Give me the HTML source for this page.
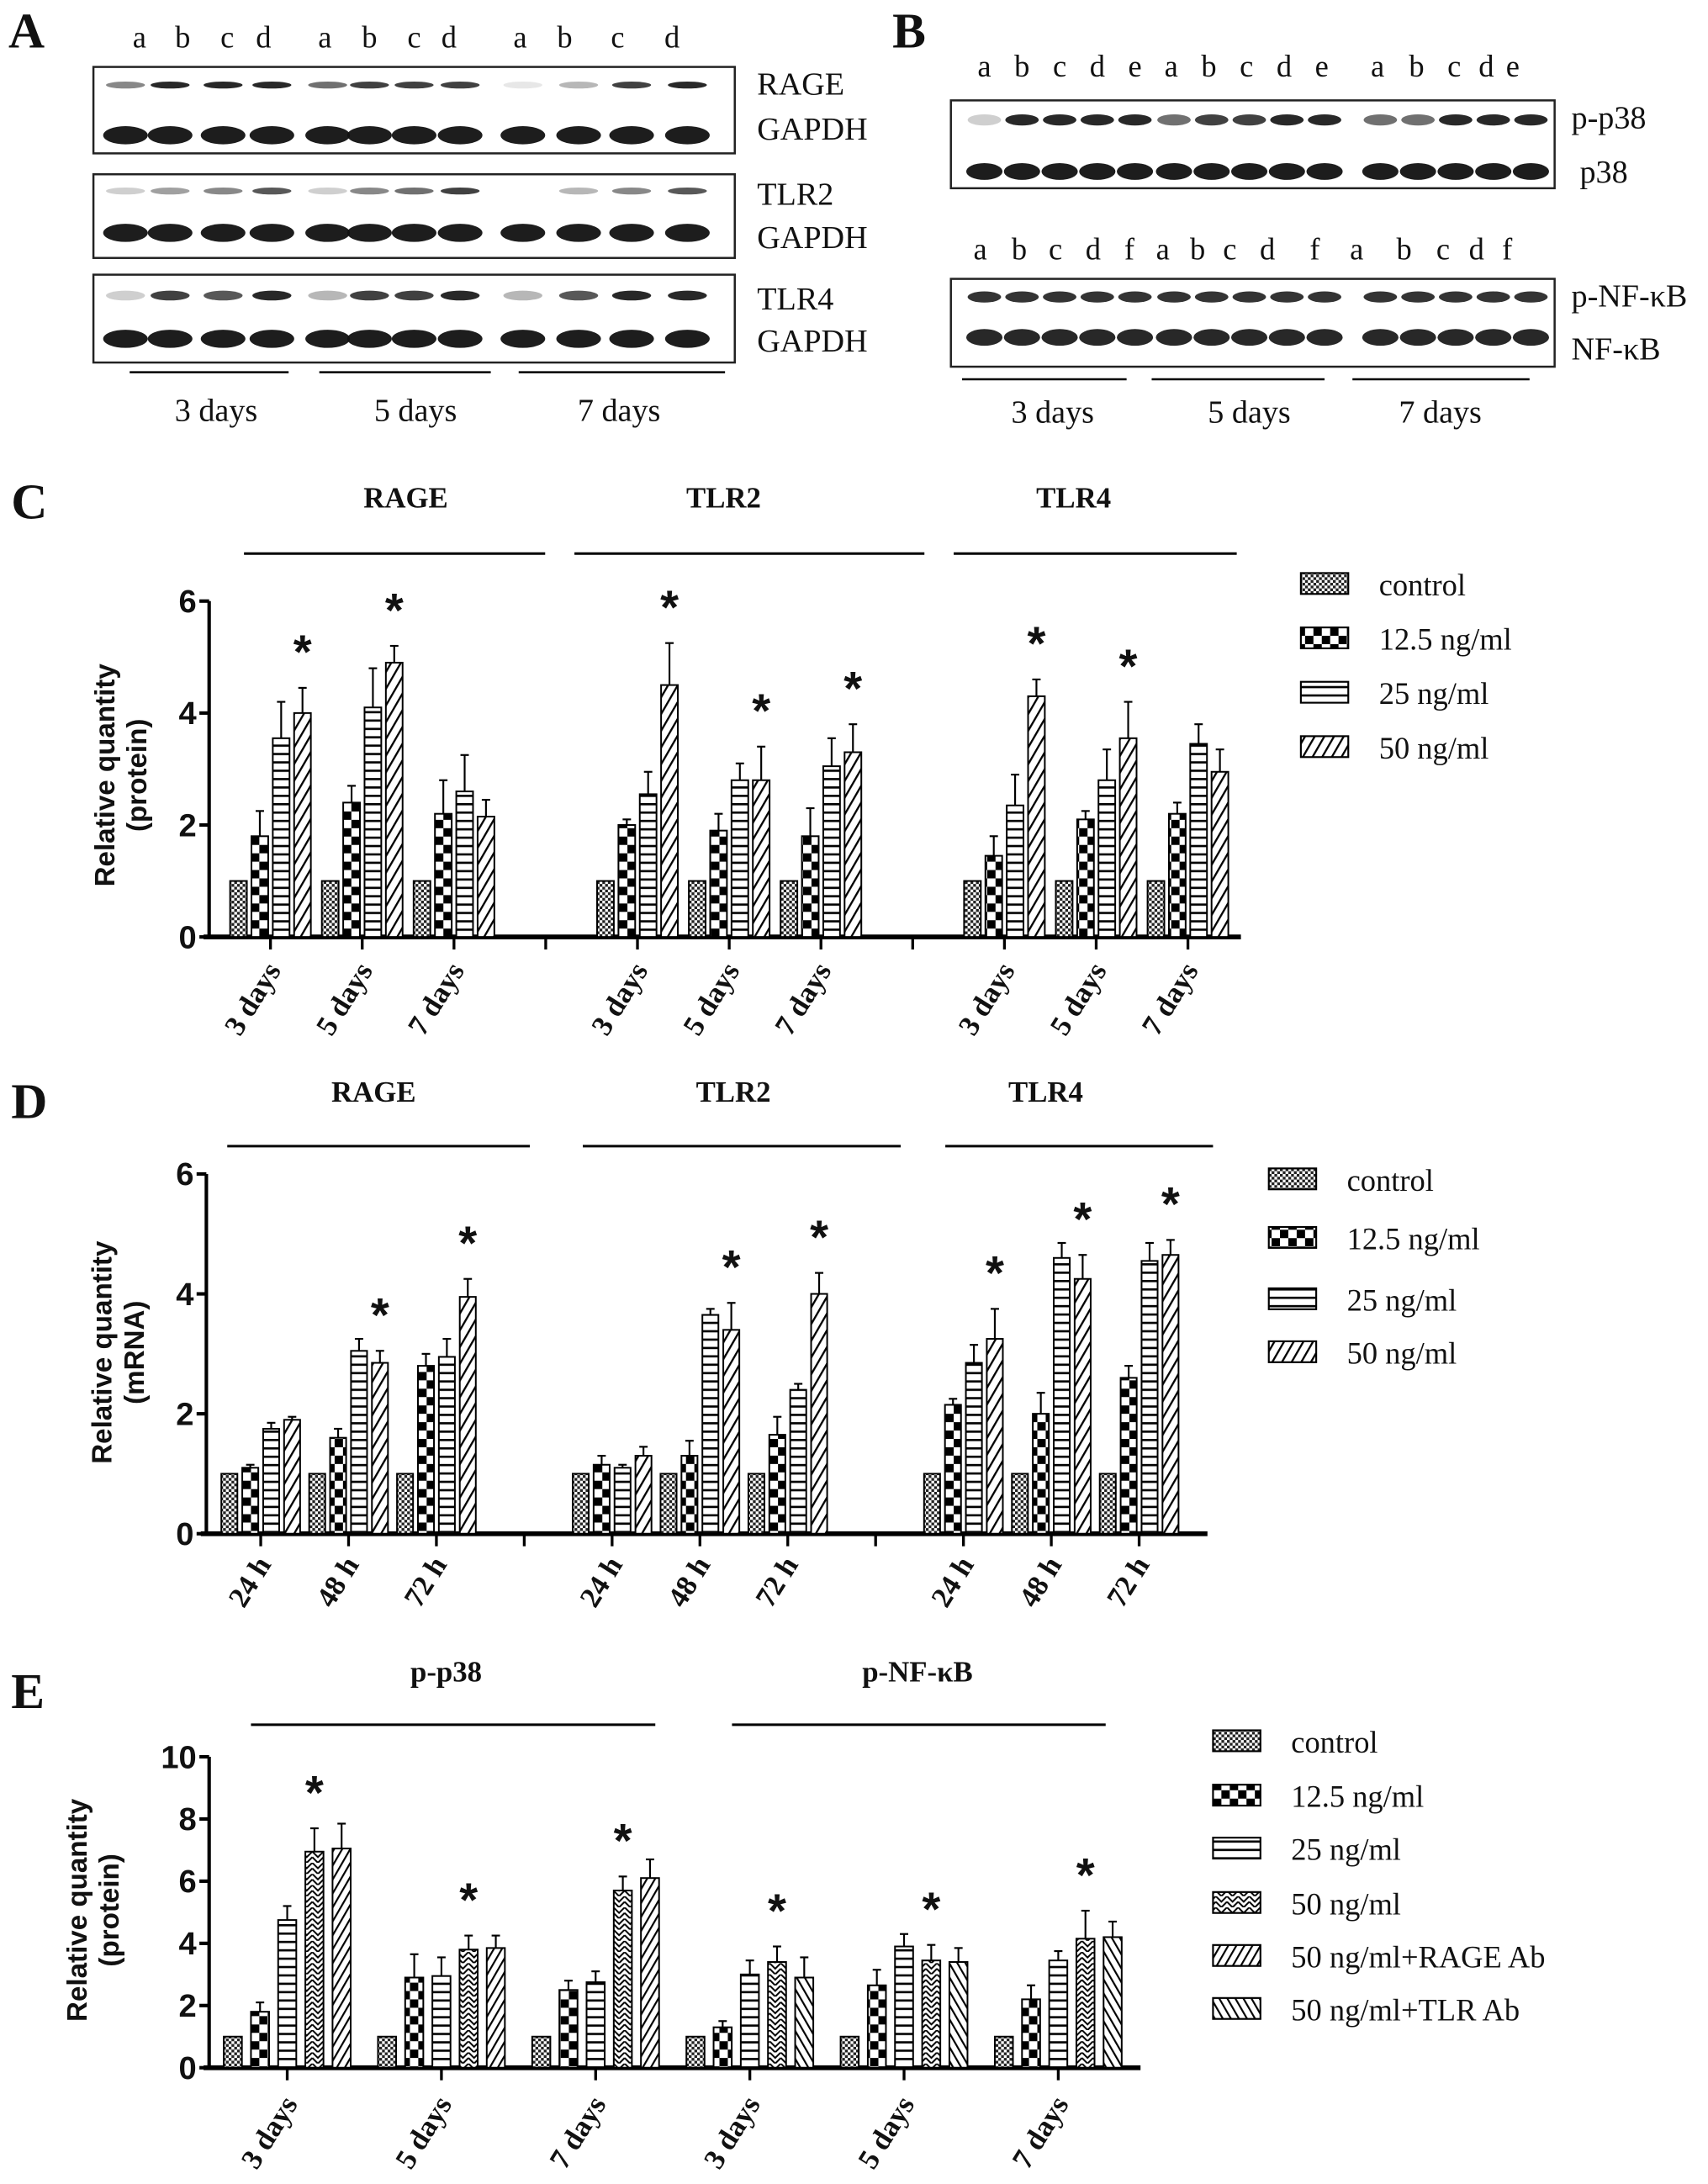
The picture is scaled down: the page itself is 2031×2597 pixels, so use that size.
<!DOCTYPE html>
<html><head><meta charset="utf-8"><style>
html,body{margin:0;padding:0;background:#fff}
svg{display:block}
.serif{font-family:"Liberation Serif",serif}
.sans{font-family:"Liberation Sans",sans-serif}
</style></head><body>
<svg id="fig" width="2031" height="2597" viewBox="0 0 1225 1566.4" preserveAspectRatio="none" xmlns="http://www.w3.org/2000/svg">
<defs>
<pattern id="pCtrl" patternUnits="userSpaceOnUse" width="4" height="4"><rect width="4" height="4" fill="#fff"/><rect width="2" height="2" fill="#222"/><rect x="2" y="2" width="2" height="2" fill="#222"/></pattern>
<pattern id="p125" patternUnits="userSpaceOnUse" width="12" height="12"><rect width="12" height="12" fill="#fff"/><rect width="6" height="6" fill="#000"/><rect x="6" y="6" width="6" height="6" fill="#000"/></pattern>
<pattern id="p25" patternUnits="userSpaceOnUse" width="6" height="6"><rect width="6" height="6" fill="#fff"/><rect y="0" width="6" height="1.6" fill="#000"/></pattern>
<pattern id="p50" patternUnits="userSpaceOnUse" width="6" height="6" patternTransform="rotate(30)"><rect width="6" height="6" fill="#fff"/><rect width="1.4" height="6" fill="#000"/></pattern>
<pattern id="pZig" patternUnits="userSpaceOnUse" width="8" height="8"><rect width="8" height="8" fill="#fff"/><path d="M0 0 L4 4 L8 0 M0 4 L4 8 L8 4" stroke="#000" stroke-width="1.2" fill="none"/></pattern>
<pattern id="pRage" patternUnits="userSpaceOnUse" width="5" height="5" patternTransform="rotate(30)"><rect width="5" height="5" fill="#fff"/><rect width="1.3" height="5" fill="#000"/></pattern>
<pattern id="pTlr" patternUnits="userSpaceOnUse" width="5" height="5" patternTransform="rotate(-30)"><rect width="5" height="5" fill="#fff"/><rect width="1.3" height="5" fill="#000"/></pattern>
</defs>
<g id="blots"></g>
<g id="chartC"></g>
<g id="chartD"></g>
<g id="chartE"></g>
</svg>
<script>
// ---------- Panel C data ----------
const cCats = ['3 days','5 days','7 days','3 days','5 days','7 days','3 days','5 days','7 days'];
const cTitles = ['RAGE','TLR2','TLR4'];
const cControl = [1,1,1,1,1,1,1,1,1];
const c125 = [1.8,2.4,2.2,2.0,1.9,1.8,1.45,2.1,2.2];
const c25 = [3.55,4.1,2.6,2.55,2.8,3.05,2.35,2.8,3.45];
const c50 = [4.0,4.9,2.15,4.5,2.8,3.3,4.3,3.55,2.95];
const cErr125 = [2.25,2.7,2.8,2.1,2.2,2.3,1.8,2.25,2.4];
const cErr25 = [4.2,4.8,3.25,2.95,3.1,3.55,2.9,3.35,3.8];
const cErr50 = [4.45,5.2,2.45,5.25,3.4,3.8,4.6,4.2,3.35];
const cStars = [1,1,0,1,1,1,1,1,0];
const cTicks = [0,2,4,6];
// ---------- Panel D data ----------
const dCats = ['24 h','48 h','72 h','24 h','48 h','72 h','24 h','48 h','72 h'];
const dTitles = ['RAGE','TLR2','TLR4'];
const dControl = [1,1,1,1,1,1,1,1,1];
const d125 = [1.1,1.6,2.8,1.15,1.3,1.65,2.15,2.0,2.6];
const d25 = [1.75,3.05,2.95,1.1,3.65,2.4,2.85,4.6,4.55];
const d50 = [1.9,2.85,3.95,1.3,3.4,4.0,3.25,4.25,4.65];
const dErr125 = [1.15,1.75,3.0,1.3,1.55,1.95,2.25,2.35,2.8];
const dErr25 = [1.85,3.25,3.25,1.15,3.75,2.5,3.15,4.85,4.85];
const dErr50 = [1.95,3.05,4.25,1.45,3.85,4.35,3.75,4.65,4.9];
const dStars = [0,1,1,0,1,1,1,1,1];
const dTicks = [0,2,4,6];
// ---------- Panel E data ----------
const eCats = ['3 days','5 days','7 days','3 days','5 days','7 days'];
const eTitles = ['p-p38','p-NF-\u03baB'];
const eControl = [1,1,1,1,1,1];
const e125 = [1.8,2.9,2.5,1.3,2.65,2.2];
const e25 = [4.75,2.95,2.75,3.0,3.9,3.45];
const e50 = [6.95,3.8,5.7,3.4,3.45,4.15];
const eRage = [7.05,3.85,6.1,null,null,null];
const eTlr = [null,null,null,2.9,3.4,4.2];
const eErr125 = [2.1,3.65,2.8,1.5,3.15,2.65];
const eErr25 = [5.2,3.55,3.1,3.45,4.3,3.75];
const eErr50 = [7.7,4.25,6.15,3.9,3.95,5.05];
const eErrRage = [7.85,4.25,6.7,null,null,null];
const eErrTlr = [null,null,null,3.55,3.85,4.7];
const eStars = [1,1,1,1,1,1];
const eTicks = [0,2,4,6,8,10];

const NS='http://www.w3.org/2000/svg';
function mk(tag,attrs,parent){const e=document.createElementNS(NS,tag);for(const k in attrs)e.setAttribute(k,attrs[k]);if(parent)parent.appendChild(e);return e;}
function txt(parent,x,y,s,size,cls,weight,anchor,extra){const t=mk('text',{x:x,y:y,'font-size':size,class:cls,'font-weight':weight||'normal','text-anchor':anchor||'start',fill:'#111'},parent);if(extra)for(const k in extra)t.setAttribute(k,extra[k]);t.textContent=s;return t;}

function drawChart(g,cfg){
  const yS=v=>cfg.y0-v*cfg.ppu;
  const xS=slot=>cfg.xStart+slot*cfg.pitch;
  const yTop=yS(cfg.ticks[cfg.ticks.length-1]);
  // axes
  const ya=mk('line',{x1:cfg.axX,y1:yTop,x2:cfg.axX,y2:cfg.y0,stroke:'#000','stroke-width':2.5},g);
  
  
  const xa=mk('line',{x1:cfg.axX-4,y1:cfg.y0,x2:cfg.axEnd,y2:cfg.y0,stroke:'#000','stroke-width':3.5},g);
  
  
  cfg.ticks.forEach(v=>{
    mk('line',{x1:cfg.axX-7,y1:yS(v),x2:cfg.axX,y2:yS(v),stroke:'#000','stroke-width':2.5},g);
    const t=txt(g,cfg.axX-9,yS(v)+8,String(v),23,'sans','bold','end');
    
    
  });
  // y title
  const yt=txt(g,0,0,'Relative quantity',20,'sans','bold','middle',{transform:`translate(${cfg.ytX},${cfg.ytY}) rotate(-90)`});
  
  
  const yt2=txt(g,0,0,cfg.ytSub,20,'sans','bold','middle',{transform:`translate(${cfg.ytX+23},${cfg.ytY}) rotate(-90)`});
  
  
  // groups
  const nB=cfg.series.length;
  cfg.slots.forEach(s=>mk('line',{x1:xS(s),y1:cfg.y0,x2:xS(s),y2:cfg.y0+9,stroke:'#000','stroke-width':2},g));
  cfg.cats.forEach((cat,gi)=>{
    const cx=xS(cfg.groupSlots[gi]);
    const left=cx-(cfg.slotsPerGroup*cfg.barPitch-(cfg.barPitch-cfg.barW))/2;
    cfg.series.forEach((ser,si)=>{
      const slotIdx=ser.slot;
      const v=ser.vals[gi];
      if(v===null||v===undefined)return;
      const bx=left+slotIdx*cfg.barPitch;
      const r=mk('rect',{x:bx,y:yS(v),width:cfg.barW,height:cfg.y0-yS(v),fill:`url(#${ser.pat})`,stroke:'#000','stroke-width':1.2},g);
      
      
      if(ser.err&&ser.err[gi]!=null){
        const ex=bx+cfg.barW/2;
        mk('line',{x1:ex,y1:yS(ser.err[gi]),x2:ex,y2:yS(v),stroke:'#000','stroke-width':1.3},g);
        mk('line',{x1:ex-3,y1:yS(ser.err[gi]),x2:ex+3,y2:yS(ser.err[gi]),stroke:'#000','stroke-width':1.3},g);
      }
      if(ser.star&&cfg.stars[gi]){
        const st=txt(g,bx+cfg.barW/2,yS(ser.err[gi])-cfg.starGap,'*',34,'sans','bold','middle');
        
        
      }
    });
    const lb=txt(g,0,0,cat,21,'serif','bold','end',{transform:`translate(${cx+8},${cfg.y0+cfg.lblDy}) rotate(-58)`});
    
    
  });
  // titles & lines
  cfg.titles.forEach((t,i)=>{
    const tt=txt(g,cfg.titleX[i],cfg.titleY,t,21,'serif','bold','middle');
    
    
    const ln=mk('line',{x1:cfg.lineX[i][0],y1:cfg.lineY,x2:cfg.lineX[i][1],y2:cfg.lineY,stroke:'#000','stroke-width':1.8},g);
    
    
  });
  // legend
  cfg.legend.forEach((l,i)=>{
    const y=cfg.legY[i];
    const b=mk('rect',{x:cfg.legX,y:y-8,width:34,height:15,fill:`url(#${l[1]})`,stroke:'#000','stroke-width':1.3},g);
    
    
    const t=txt(g,cfg.legX+56,y+8,l[0],22,'serif','normal','start');
    
    
  });
  const L=txt(g,cfg.letter[1],cfg.letter[2],cfg.letter[0],36,'serif','bold','start');
  
  
}

const leg4=[['control','pCtrl'],['12.5 ng/ml','p125'],['25 ng/ml','p25'],['50 ng/ml','p50']];
drawChart(document.getElementById('chartC'),{
  y0:672,ppu:40.15,ticks:cTicks,axX:150,axEnd:890,xStart:194,pitch:65.8,
  groupSlots:[0,1,2,4,5,6,8,9,10],slots:[0,1,2,3,4,5,6,7,8,9,10],cats:cCats,
  slotsPerGroup:4,barPitch:15.3,barW:12,starGap:14,lblDy:24,
  series:[{name:'control',vals:cControl,pat:'pCtrl',slot:0},{name:'12-5',vals:c125,err:cErr125,pat:'p125',slot:1},{name:'25',vals:c25,err:cErr25,pat:'p25',slot:2},{name:'50',vals:c50,err:cErr50,pat:'p50',slot:3,star:true}],
  stars:cStars,ytX:82,ytY:556,ytSub:'(protein)',
  titles:cTitles,titleX:[291,519,770],titleY:364,lineX:[[175,391],[412,663],[684,887]],lineY:397,
  legend:leg4,legX:933,legY:419,legY:[419,458,497,536],letter:['C',8,372]
});
drawChart(document.getElementById('chartD'),{
  y0:1100,ppu:43,ticks:dTicks,axX:148,axEnd:866,xStart:187,pitch:63,
  groupSlots:[0,1,2,4,5,6,8,9,10],slots:[0,1,2,3,4,5,6,7,8,9,10],cats:dCats,
  slotsPerGroup:4,barPitch:15,barW:11.5,starGap:14,lblDy:22,
  series:[{name:'control',vals:dControl,pat:'pCtrl',slot:0},{name:'12-5',vals:d125,err:dErr125,pat:'p125',slot:1},{name:'25',vals:d25,err:dErr25,pat:'p25',slot:2},{name:'50',vals:d50,err:dErr50,pat:'p50',slot:3,star:true}],
  stars:dStars,ytX:80,ytY:970,ytSub:'(mRNA)',
  titles:dTitles,titleX:[268,526,750],titleY:790,lineX:[[163,380],[418,646],[678,870]],lineY:822,
  legend:leg4,legX:910,legY:[846,888,932,970],letter:['D',8,802]
});
drawChart(document.getElementById('chartE'),{
  y0:1483,ppu:22.3,ticks:eTicks,axX:150,axEnd:818,xStart:206,pitch:110.6,
  groupSlots:[0,1,2,3,4,5],slots:[0,1,2,3,4,5],cats:eCats,
  slotsPerGroup:5,barPitch:19.5,barW:13,starGap:14,lblDy:26,
  series:[{name:'control',vals:eControl,pat:'pCtrl',slot:0},{name:'12-5',vals:e125,err:eErr125,pat:'p125',slot:1},{name:'25',vals:e25,err:eErr25,pat:'p25',slot:2},{name:'50',vals:e50,err:eErr50,pat:'pZig',slot:3,star:true},{name:'50-rage-ab',vals:eRage,err:eErrRage,pat:'pRage',slot:4},{name:'50-tlr-ab',vals:eTlr,err:eErrTlr,pat:'pTlr',slot:4}],
  stars:eStars,ytX:62,ytY:1370,ytSub:'(protein)',
  titles:eTitles,titleX:[320,658],titleY:1206,lineX:[[180,470],[525,793]],lineY:1237,
  legend:[['control','pCtrl'],['12.5 ng/ml','p125'],['25 ng/ml','p25'],['50 ng/ml','pZig'],['50 ng/ml+RAGE Ab','pRage'],['50 ng/ml+TLR Ab','pTlr']],
  legX:870,legY:[1249,1288,1326,1365,1403,1441],letter:['E',8,1225]
});

// ---------- Blots (A, B) ----------
const bg=document.getElementById('blots');
function L(s,x,y,size,w,anchor){const t=txt(bg,x,y,s,size,'serif',w||'normal',anchor||'start');return t;}
let t;
t=L('A',6,34,36,'bold');
t=L('B',640,34,36,'bold');
const aLetters=['a','b','c','d','a','b','c','d','a','b','c','d'];
const aX=[100,131,163,189,233,265,297,322,373,405,443,482];
aLetters.forEach((s,i)=>{const e=L(s,aX[i],34,22,'normal','middle');});
const aLanes=[90,122,160,195,235,265,297,330,375,415,453,493];
function blotBox(x,y,w,h,name){const r=mk('rect',{x:x,y:y,width:w,height:h,fill:'#fff',stroke:'#222','stroke-width':1.5},bg);}
function band(cx,cy,w,h,op){mk('ellipse',{cx:cx,cy:cy,rx:w/2,ry:h/2,fill:'#111','fill-opacity':op},bg);}
blotBox(67,48,460,62,'rage-blot');blotBox(67,125,460,60,'tlr2-blot');blotBox(67,197,460,63,'tlr4-blot');
const aRage=[0.5,0.9,0.9,0.9,0.6,0.8,0.8,0.8,0.1,0.3,0.8,0.9];
const aTlr2=[0.2,0.4,0.5,0.7,0.2,0.5,0.6,0.8,0,0.3,0.5,0.7];
const aTlr4=[0.2,0.8,0.7,0.9,0.3,0.8,0.8,0.9,0.3,0.7,0.9,0.9];
aLanes.forEach((x,i)=>{band(x,61,28,5,aRage[i]);band(x,97,32,13,0.95);band(x,137,28,5,aTlr2[i]);band(x,167,32,13,0.95);band(x,212,28,7,aTlr4[i]);band(x,243,32,13,0.95);});
[['RAGE',543,68],['GAPDH',543,100],['TLR2',543,147],['GAPDH',543,178],['TLR4',543,222],['GAPDH',543,252]].forEach(a=>{const e=L(a[0],a[1],a[2],23);});
[[93,207],[229,352],[372,520]].forEach(p=>mk('line',{x1:p[0],y1:267,x2:p[1],y2:267,stroke:'#000','stroke-width':1.5},bg));
[['3 days',155],['5 days',298],['7 days',444]].forEach(a=>{const e=L(a[0],a[1],302,23,'normal','middle');});
const bL1=['a','b','c','d','e','a','b','c','d','e','a','b','c','d','e'];
const bX1=[706,733,760,787,814,840,867,894,921,948,988,1016,1043,1066,1085];
bL1.forEach((s,i)=>{const e=L(s,bX1[i],55,22,'normal','middle');});
const bL2=['a','b','c','d','f','a','b','c','d','f','a','b','c','d','f'];
const bX2=[703,731,757,784,810,834,859,882,909,943,973,1007,1035,1059,1081];
bL2.forEach((s,i)=>{const e=L(s,bX2[i],186,22,'normal','middle');});
blotBox(682,72,433,63,'p38-blot');blotBox(682,200,433,63,'nfkb-blot');
const bLanes=[706,733,760,787,814,842,869,896,923,950,990,1017,1044,1071,1098];
const bP38=[0.2,0.9,0.9,0.9,0.9,0.6,0.8,0.8,0.9,0.9,0.6,0.6,0.9,0.9,0.9];
bLanes.forEach((x,i)=>{band(x,86,24,8,bP38[i]);band(x,123,26,12,0.95);band(x,213,24,8,0.85);band(x,242,26,12,0.9);});
[['p-p38',1127,92],['p38',1133,131],['p-NF-\u03baB',1127,220],['NF-\u03baB',1127,258]].forEach(a=>{const e=L(a[0],a[1],a[2],23);});
[[690,808],[826,950],[970,1097]].forEach(p=>mk('line',{x1:p[0],y1:272,x2:p[1],y2:272,stroke:'#000','stroke-width':1.5},bg));
[['3 days',755],['5 days',896],['7 days',1033]].forEach(a=>{const e=L(a[0],a[1],303,23,'normal','middle');});
</script>
</body></html>
